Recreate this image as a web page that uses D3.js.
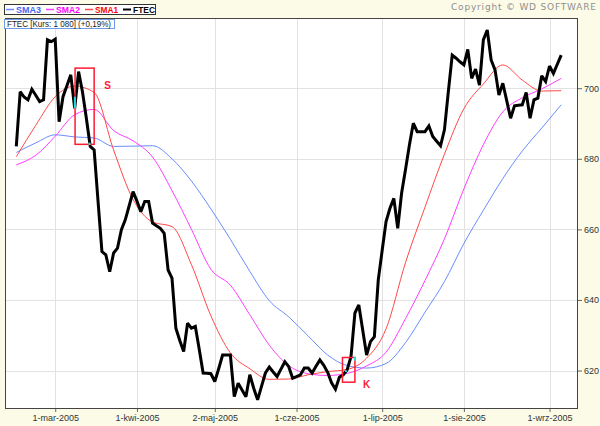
<!DOCTYPE html>
<html>
<head>
<meta charset="utf-8">
<script src="https://cdn.jsdelivr.net/npm/d3@7"></script>
<style>
  html, body { margin: 0; padding: 0; background: #fbfbe8; }
  svg { display: block; font-family: "Liberation Sans", Arial, sans-serif; }
</style>
</head>
<body>
<svg id="chart" width="600" height="426"></svg>
<script>
// ---- data (daily closes, trading-day index 0..140) ----
const ftec = [
  683.5, 699.0, 697.5, 696.7, 699.7, 698.0, 696.2, 696.7, 713.7, 713.2,
  713.9, 690.5, 697.6, 700.7, 703.8, 694.3, 704.7, 699.0, 691.5, 683.5,
  682.5, 668.0, 653.7, 652.8, 648.0, 653.3, 654.7, 659.9, 662.7, 666.7,
  670.7, 668.0, 665.0, 667.9, 667.9, 661.8, 661.0, 660.3, 658.9, 648.5,
  646.2, 632.0, 628.5, 625.4, 633.4, 632.0, 632.5, 626.0, 619.3, 619.2,
  619.1, 616.9, 620.5, 624.4, 624.4, 624.4, 612.6, 616.4, 614.5, 612.6,
  618.8, 615.0, 611.7, 615.5, 619.3, 621.0, 619.6, 618.3, 620.4, 622.5,
  621.1, 617.8, 618.3, 618.8, 620.7, 620.7, 619.3, 621.2, 623.0, 621.5,
  619.5, 616.5, 614.7, 618.1, 618.8, 620.2, 624.0, 636.3, 638.6, 631.5,
  624.4, 628.2, 629.6, 645.7, 654.0, 662.2, 666.0, 668.8, 660.3, 670.3,
  677.0, 683.9, 690.1, 687.7, 687.7, 687.7, 689.3, 686.3, 685.0, 683.7,
  688.2, 699.0, 709.4, 708.5, 707.5, 706.6, 711.0, 702.8, 705.4, 700.9,
  713.7, 716.5, 708.0, 705.2, 698.1, 701.4, 696.5, 691.5, 695.0, 695.2,
  695.3, 698.8, 691.5, 696.7, 697.2, 703.5, 701.9, 706.3, 704.2, 706.8,
  709.4
];
// moving averages read every 5 trading days (index 0,5,...,140)
const smaStep = 5;
const sma1 = [680.6, 689.5, 697.6, 700.6, 698.8, 682.5, 668.5, 662.1, 660.8, 650.0,
              635.5, 625.0, 620.5, 617.5, 617.6, 618.8, 619.7, 620.3, 623.5, 631.8,
              650.6, 666.3, 681.3, 694.2, 701.2, 706.6, 702.3, 699.2, 699.3];
const sma2 = [678.3, 681.0, 686.4, 692.5, 694.0, 688.0, 685.1, 680.5, 671.0, 660.0,
              648.7, 644.2, 635.8, 627.2, 621.4, 619.1, 618.6, 619.2, 621.3, 625.2,
              634.7, 645.5, 657.3, 671.5, 684.0, 693.3, 697.3, 699.8, 702.8];
const sma3 = [681.8, 684.5, 686.8, 686.2, 685.9, 683.5, 683.6, 683.7, 680.0, 673.7,
              665.8, 657.2, 648.1, 639.8, 635.2, 629.8, 624.4, 621.4, 620.7, 622.0,
              627.9, 636.5, 645.2, 656.0, 665.4, 674.4, 682.2, 688.7, 695.3];

const xTickIdx    = [10, 31, 51, 72, 94, 115, 137];
const xTickLabels = ["1-mar-2005", "1-kwi-2005", "2-maj-2005", "1-cze-2005", "1-lip-2005", "1-sie-2005", "1-wrz-2005"];
const yTicks      = [620, 640, 660, 680, 700];

const seriesNames  = ["SMA3", "SMA2", "SMA1", "FTEC"];
const seriesColors = ["#6a8cff", "#ff3cff", "#ff4848", "#000000"];
const legendText   = ["#4466ee", "#ff00ff", "#ff0000", "#000000"];

// signals: label, index range, value range
const signalLabels = ["S", "K"];
const signalFrom   = [15.1, 83.8];
const signalTo     = [20.0, 87.0];
const signalHigh   = [705.7, 623.7];
const signalLow    = [684.1, 616.7];
// cyan crossing markers [index, valueFrom, valueTo]
const crossIdx  = [15.05, 18.8, 87.0, 84.7];
const crossFrom = [697.6, 684.6, 623.9, 619.6];
const crossTo   = [694.3, 683.9, 622.8, 620.1];

// ---- layout ----
const svg = d3.select("#chart");
const L = 5, R = 578, T = 18, B = 409;

const x = d3.scaleLinear().domain([0, ftec.length - 1]).range([16.3, 561.2]);
const y = d3.scaleLinear().domain([609.1, 719.9]).range([B, T]);

// plot background
svg.append("rect").attr("x", L).attr("y", T).attr("width", R - L).attr("height", B - T)
  .attr("fill", "#ffffff");

// grid
const g = svg.append("g");
g.selectAll(".hg").data(yTicks).join("line")
  .attr("x1", L).attr("x2", R).attr("y1", d => Math.round(y(d)) + 0.5).attr("y2", d => Math.round(y(d)) + 0.5)
  .attr("stroke", "#e2e2e2").attr("stroke-width", 1);
g.selectAll(".vg").data(xTickIdx).join("line")
  .attr("y1", T).attr("y2", B).attr("x1", d => Math.round(x(d)) + 0.5).attr("x2", d => Math.round(x(d)) + 0.5)
  .attr("stroke", "#e2e2e2").attr("stroke-width", 1);

// right axis
const yAxis = d3.axisRight(y).tickValues(yTicks).tickSize(4).tickPadding(2).tickFormat(d3.format("d"));
const ya = svg.append("g").attr("transform", `translate(${R},0)`).call(yAxis);
ya.select(".domain").remove();
ya.selectAll("line").attr("stroke", "#666");
ya.selectAll("text").attr("fill", "#333").style("font-size", "9px").style("font-family", "Liberation Sans, Arial");

// bottom axis
const xAxis = d3.axisBottom(x).tickValues(xTickIdx).tickSize(3).tickPadding(3)
  .tickFormat((d, i) => xTickLabels[i]);
const xa = svg.append("g").attr("transform", `translate(0,${B})`).call(xAxis);
xa.select(".domain").remove();
xa.selectAll("line").attr("stroke", "#666");
xa.selectAll("text").attr("fill", "#333").style("font-size", "9px").style("font-family", "Liberation Sans, Arial");

// clip
svg.append("clipPath").attr("id", "clip").append("rect")
  .attr("x", L).attr("y", T).attr("width", R - L).attr("height", B - T);
const plot = svg.append("g").attr("clip-path", "url(#clip)");

const smaLine = d3.line().x((d, i) => x(i * smaStep)).y(d => y(d)).curve(d3.curveMonotoneX);
[sma3, sma2, sma1].forEach((s, k) => {
  plot.append("path").datum(s).attr("d", smaLine)
    .attr("fill", "none").attr("stroke", seriesColors[k]).attr("stroke-width", 1);
});

const priceLine = d3.line().x((d, i) => x(i)).y(d => y(d));
plot.append("path").datum(ftec).attr("d", priceLine)
  .attr("fill", "none").attr("stroke", "#000").attr("stroke-width", 3)
  .attr("stroke-linejoin", "miter").attr("stroke-miterlimit", 2.5);

// signal boxes
signalLabels.forEach((lab, k) => {
  plot.append("rect")
    .attr("x", x(signalFrom[k])).attr("y", y(signalHigh[k]))
    .attr("width", x(signalTo[k]) - x(signalFrom[k]))
    .attr("height", y(signalLow[k]) - y(signalHigh[k]))
    .attr("fill", "none").attr("stroke", "#ff1a33").attr("stroke-width", 1.5);
});
crossIdx.forEach((ci, k) => {
  plot.append("line")
    .attr("x1", x(ci)).attr("x2", x(ci))
    .attr("y1", y(crossFrom[k])).attr("y2", y(crossTo[k]))
    .attr("stroke", "#22dddd").attr("stroke-width", 2);
});
svg.append("text").attr("x", x(signalTo[0]) + 10).attr("y", y(signalHigh[0]) + 21)
  .text(signalLabels[0]).attr("fill", "#ff1a33").style("font-size", "10px").style("font-weight", "bold");
svg.append("text").attr("x", x(signalTo[1]) + 8).attr("y", y(signalLow[1]) + 6)
  .text(signalLabels[1]).attr("fill", "#ff1a33").style("font-size", "10px").style("font-weight", "bold");

// frame
svg.append("rect").attr("x", L + 0.5).attr("y", T + 0.5).attr("width", R - L - 1).attr("height", B - T - 1)
  .attr("fill", "none").attr("stroke", "#444").attr("stroke-width", 1);

// legend
const leg = svg.append("g");
leg.append("rect").attr("x", 4.5).attr("y", 4.5).attr("width", 151).attr("height", 10)
  .attr("fill", "#fff").attr("stroke", "#333");
const legX = [5, 45, 84, 122];
const legW = [25, 24, 23, 22];
seriesNames.forEach((n, k) => {
  leg.append("line").attr("x1", legX[k] + 1).attr("x2", legX[k] + 9).attr("y1", 9.5).attr("y2", 9.5)
    .attr("stroke", seriesColors[k]).attr("stroke-width", k === 3 ? 2 : 1.5);
  leg.append("text").attr("x", legX[k] + 11).attr("y", 13.2).text(n)
    .attr("textLength", legW[k]).attr("lengthAdjust", "spacingAndGlyphs")
    .attr("fill", legendText[k]).style("font-size", "9.5px").style("font-weight", "bold");
});

// info box
svg.append("rect").attr("x", 4.5).attr("y", 19.5).attr("width", 110).attr("height", 9)
  .attr("fill", "#fff").attr("stroke", "#6f9be8");
svg.append("text").attr("x", 7).attr("y", 27.2).text("FTEC [Kurs: 1 080] (+0,19%)")
  .attr("textLength", 104).attr("lengthAdjust", "spacingAndGlyphs")
  .attr("fill", "#222").style("font-size", "9px");

// copyright
svg.append("text").attr("x", 451).attr("y", 9.8).text("Copyright © WD SOFTWARE")
  .attr("fill", "#8f8f8f").style("font-size", "9px").style("font-family", "DejaVu Sans, Verdana")
  .attr("textLength", 145).attr("lengthAdjust", "spacing");
</script>
</body>
</html>
